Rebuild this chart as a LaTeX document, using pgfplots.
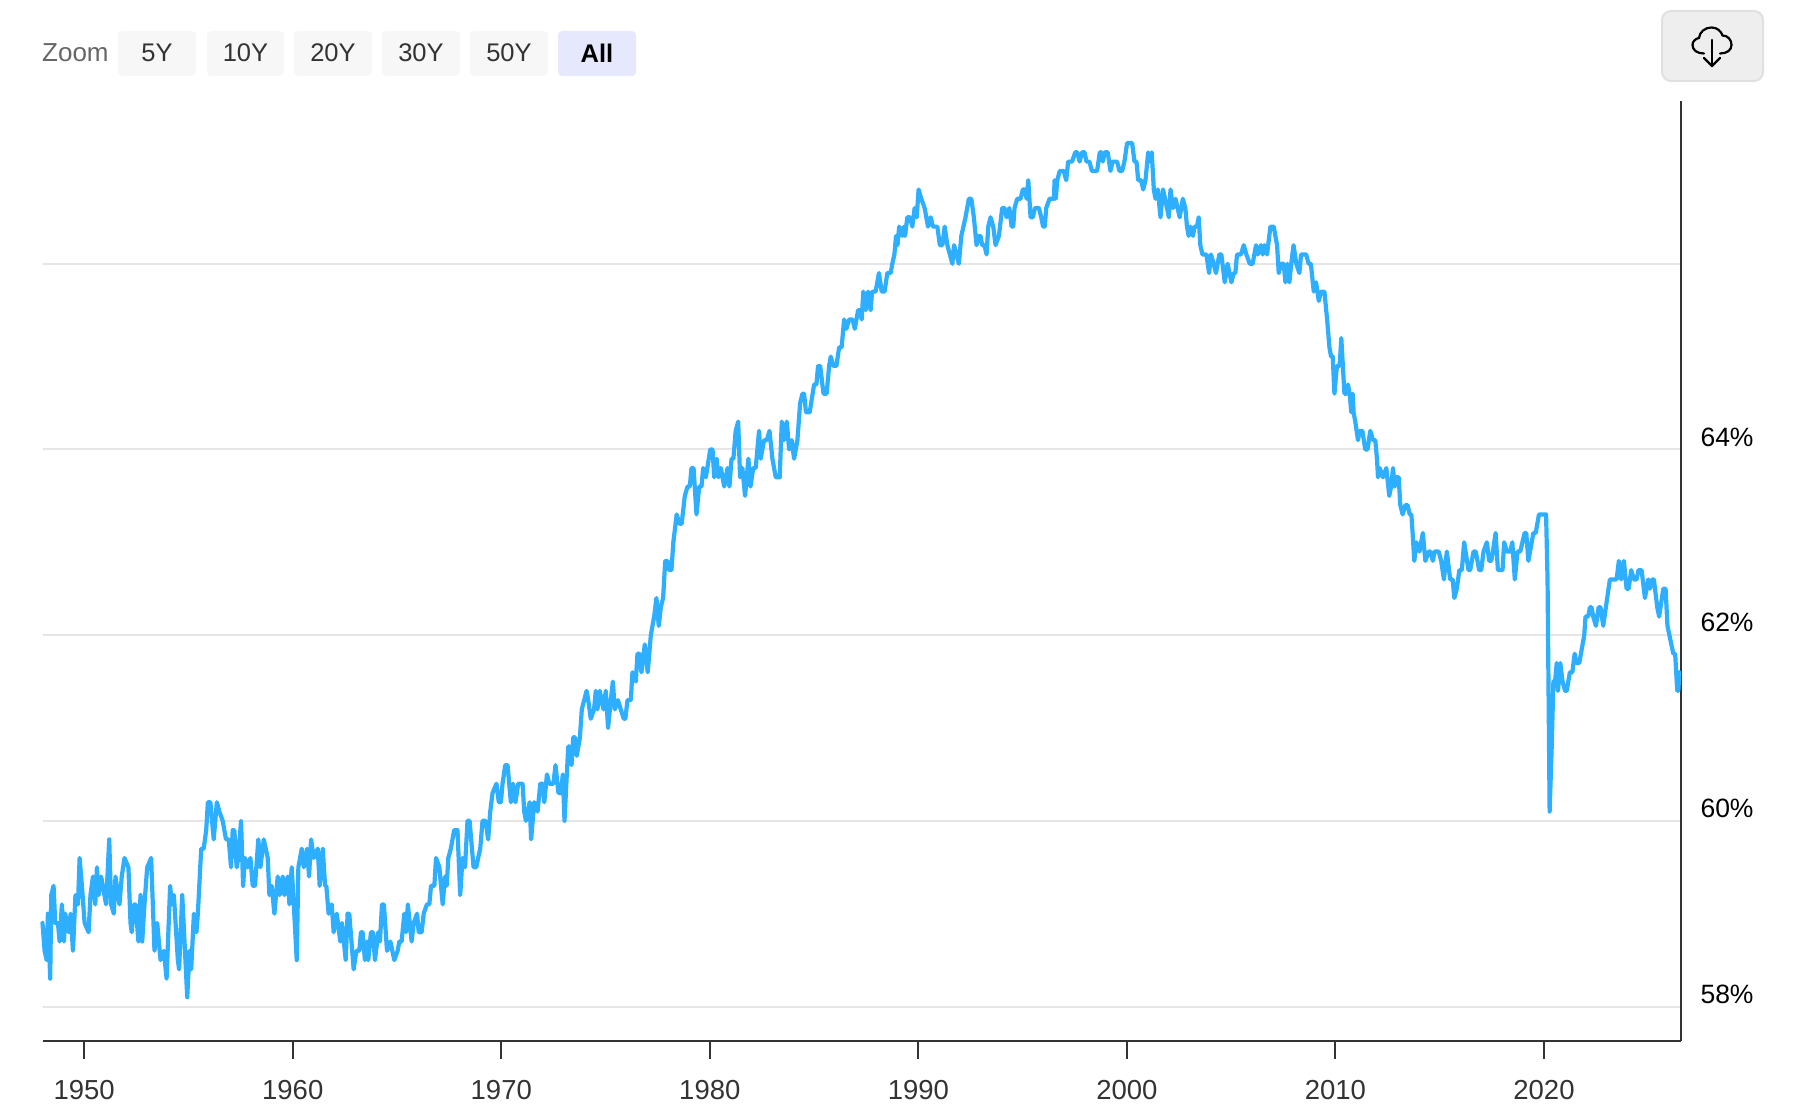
\documentclass[border=0pt]{standalone}
\usepackage{fontspec}
\setmainfont{Liberation Sans}
\usepackage{pgfplots}
\pgfplotsset{compat=1.18}
\definecolor{lineblue}{HTML}{2DAEFF}
\definecolor{gridc}{HTML}{E6E6E6}
\definecolor{axc}{HTML}{333333}
\definecolor{btn}{HTML}{F7F7F7}
\definecolor{btnall}{HTML}{E6E9FD}
\begin{document}
\begin{tikzpicture}[x=1pt,y=1pt]
\path[use as bounding box] (0,0) rectangle (1800,1112);
\begin{axis}[
  at={(42.5pt,71.5pt)}, anchor=south west, scale only axis,
  width=1638.5pt, height=939.5pt,
  xmin=1948, xmax=2026.57, ymin=57.634, ymax=67.753,
  axis y line*=right, axis x line*=bottom,
  axis line style={draw=axc, line width=2pt},
  xtick={1950,1960,1970,1980,1990,2000,2010,2020},
  xticklabels={1950,1960,1970,1980,1990,2000,2010,2020},
  ytick={58,60,62,64,66},
  yticklabels={58\%,60\%,62\%,64\%,{}},
  ymajorgrids, major grid style={draw=gridc, line width=2pt},
  tick align=outside,
  x tick style={draw=axc, line width=2pt},
  y tick style={draw=none},
  major tick length=18pt,
  xticklabel style={font=\fontsize{27.5}{30}\selectfont, text=axc, yshift=-18pt},
  yticklabel style={font=\fontsize{26.5}{30}\selectfont, text=black, anchor=west, xshift=-2pt, yshift=12.5pt},
  clip=false,
]
\addplot[lineblue, line width=4.2pt, line join=round, line cap=round] coordinates {
(1948.00,58.9)(1948.10,58.6)(1948.20,58.5)(1948.26,59.0)(1948.37,58.3)(1948.42,59.2)(1948.53,59.3)(1948.61,58.9)(1948.74,58.9)(1948.82,58.7)(1948.93,59.1)(1949.03,58.7)(1949.09,59.0)(1949.25,58.8)(1949.35,59.0)(1949.46,58.6)(1949.58,59.2)(1949.70,59.1)(1949.78,59.6)(1949.89,59.3)
(1950.02,58.9)(1950.21,58.8)(1950.30,59.2)(1950.42,59.4)(1950.53,59.1)(1950.61,59.5)(1950.69,59.2)(1950.81,59.4)(1951.05,59.1)(1951.20,59.8)(1951.29,59.1)(1951.42,59.0)(1951.50,59.4)(1951.69,59.1)(1951.80,59.4)(1951.93,59.6)(1952.12,59.5)(1952.22,58.9)(1952.28,58.8)(1952.38,59.1)(1952.46,59.1)(1952.60,58.7)(1952.70,59.2)(1952.78,58.7)(1952.89,59.1)
(1953.02,59.5)(1953.21,59.6)(1953.37,58.6)(1953.50,58.9)(1953.66,58.5)(1953.82,58.6)(1953.95,58.3)(1954.12,59.3)(1954.20,59.1)(1954.30,59.2)(1954.49,58.5)(1954.55,58.4)(1954.70,59.2)(1954.81,58.7)(1954.94,58.1)(1955.05,58.6)(1955.13,58.4)(1955.26,59.0)(1955.38,58.8)(1955.45,59.0)(1955.61,59.7)(1955.73,59.7)(1955.85,59.9)(1955.93,60.2)
(1956.05,60.2)(1956.21,59.8)(1956.36,60.2)(1956.48,60.1)(1956.64,60.0)(1956.80,59.8)(1956.93,59.8)(1957.04,59.5)(1957.12,59.9)(1957.20,59.9)(1957.31,59.5)(1957.39,59.6)(1957.52,60.0)(1957.62,59.3)(1957.71,59.6)(1957.84,59.5)(1957.97,59.6)(1958.08,59.3)(1958.19,59.3)(1958.35,59.8)(1958.45,59.5)(1958.61,59.8)(1958.80,59.6)(1958.88,59.2)(1958.99,59.3)(1959.12,59.0)(1959.28,59.4)(1959.37,59.2)
(1959.52,59.4)(1959.60,59.2)(1959.76,59.4)(1959.84,59.1)(1959.95,59.5)(1960.05,59.1)(1960.19,58.5)(1960.27,59.5)(1960.43,59.7)(1960.53,59.5)(1960.69,59.7)(1960.78,59.4)(1960.88,59.8)(1961.00,59.6)(1961.20,59.7)(1961.29,59.3)(1961.44,59.7)(1961.55,59.3)(1961.61,59.3)(1961.72,59.0)(1961.87,59.1)(1961.96,58.8)(1962.11,59.0)(1962.28,58.7)(1962.36,58.9)(1962.54,58.5)(1962.63,59.0)(1962.71,59.0)(1962.92,58.4)
(1963.05,58.6)(1963.19,58.6)(1963.27,58.8)(1963.35,58.8)(1963.46,58.5)(1963.56,58.7)(1963.62,58.5)(1963.75,58.8)(1963.85,58.8)(1963.94,58.5)(1964.10,58.8)(1964.18,58.7)(1964.28,59.1)(1964.37,59.1)(1964.52,58.6)(1964.68,58.7)(1964.87,58.5)(1965.03,58.6)(1965.11,58.7)(1965.22,58.7)(1965.35,59.0)(1965.43,58.8)(1965.52,59.1)(1965.70,58.7)(1965.80,58.9)(1965.96,59.0)
(1966.04,58.8)(1966.18,58.8)(1966.28,59.0)(1966.43,59.1)(1966.55,59.1)(1966.63,59.3)(1966.79,59.3)(1966.87,59.6)(1967.03,59.5)(1967.19,59.1)(1967.30,59.4)(1967.38,59.3)(1967.46,59.6)(1967.58,59.7)(1967.74,59.9)(1967.90,59.9)(1968.03,59.2)(1968.14,59.6)(1968.26,59.5)(1968.38,60.0)(1968.48,60.0)(1968.67,59.5)(1968.80,59.5)(1968.89,59.6)(1968.99,59.7)
(1969.10,60.0)(1969.25,60.0)(1969.37,59.8)(1969.47,60.1)(1969.58,60.3)(1969.77,60.4)(1969.88,60.2)(1969.98,60.2)(1970.06,60.4)(1970.19,60.6)(1970.30,60.6)(1970.46,60.2)(1970.56,60.4)(1970.68,60.2)(1970.81,60.4)(1971.02,60.4)
(1971.10,60.1)(1971.18,60.0)(1971.36,60.2)(1971.43,59.8)(1971.58,60.2)(1971.74,60.1)(1971.87,60.4)(1971.98,60.4)(1972.06,60.2)(1972.19,60.5)(1972.30,60.4)(1972.50,60.4)(1972.60,60.6)(1972.74,60.3)(1972.86,60.3)(1972.95,60.5)(1973.03,60.0)(1973.21,60.8)(1973.27,60.8)(1973.37,60.6)(1973.45,60.9)(1973.53,60.9)(1973.62,60.7)(1973.77,60.9)(1973.86,61.2)
(1974.09,61.4)(1974.17,61.3)(1974.29,61.1)(1974.45,61.2)(1974.53,61.4)(1974.61,61.2)(1974.72,61.4)(1974.90,61.2)(1975.01,61.4)(1975.12,61.0)(1975.25,61.3)(1975.35,61.5)(1975.44,61.2)(1975.59,61.3)(1975.73,61.2)(1975.87,61.1)(1975.95,61.1)(1976.05,61.3)(1976.21,61.3)(1976.29,61.6)(1976.45,61.5)(1976.53,61.8)(1976.63,61.8)(1976.72,61.6)(1976.88,61.9)
(1977.02,61.6)(1977.17,62.0)(1977.33,62.2)(1977.44,62.4)(1977.55,62.1)(1977.65,62.3)(1977.76,62.4)(1977.86,62.8)(1977.97,62.8)(1978.05,62.7)(1978.16,62.7)(1978.25,63.0)(1978.41,63.3)(1978.54,63.2)(1978.65,63.2)
(1978.80,63.5)(1978.93,63.6)(1979.04,63.6)(1979.12,63.8)(1979.22,63.8)(1979.36,63.3)(1979.49,63.6)(1979.60,63.6)(1979.68,63.8)(1979.81,63.7)(1980.02,64.0)(1980.13,64.0)(1980.21,63.7)(1980.33,63.9)(1980.41,63.7)(1980.53,63.8)(1980.69,63.6)(1980.85,63.8)(1980.94,63.6)(1981.04,63.9)(1981.13,63.9)(1981.24,64.2)(1981.36,64.3)(1981.45,63.7)(1981.56,63.8)(1981.69,63.5)(1981.85,63.9)(1981.95,63.6)
(1982.08,63.8)(1982.20,63.8)(1982.36,64.2)(1982.44,63.9)(1982.60,64.1)(1982.73,64.1)(1982.86,64.2)(1983.00,63.9)(1983.16,63.7)(1983.35,63.7)(1983.45,64.3)(1983.56,64.1)(1983.69,64.3)(1983.80,64.0)(1983.93,64.1)(1984.04,63.9)(1984.20,64.1)(1984.33,64.5)(1984.44,64.6)(1984.52,64.6)(1984.61,64.4)(1984.79,64.4)
(1985.00,64.7)(1985.11,64.7)(1985.19,64.9)(1985.29,64.9)(1985.45,64.6)(1985.60,64.6)(1985.72,64.9)(1985.80,65.0)(1985.92,64.9)(1986.07,64.9)(1986.20,65.1)(1986.32,65.1)(1986.44,65.4)(1986.55,65.3)(1986.68,65.4)(1986.84,65.4)(1986.95,65.3)(1987.11,65.5)(1987.20,65.5)(1987.28,65.4)(1987.36,65.7)(1987.47,65.5)(1987.59,65.7)(1987.71,65.5)(1987.78,65.7)(1987.95,65.7)
(1988.11,65.9)(1988.24,65.7)(1988.38,65.7)(1988.51,65.9)(1988.67,65.9)(1988.75,66.0)(1988.85,66.1)(1988.93,66.3)(1989.00,66.2)(1989.08,66.4)
(1989.23,66.3)(1989.31,66.4)(1989.36,66.3)(1989.47,66.5)(1989.60,66.5)(1989.71,66.4)(1989.82,66.6)(1989.92,66.5)(1990.01,66.8)(1990.14,66.7)(1990.30,66.6)(1990.46,66.4)(1990.59,66.5)(1990.70,66.4)(1990.91,66.4)(1991.03,66.2)(1991.15,66.2)(1991.26,66.4)(1991.39,66.2)(1991.51,66.1)(1991.63,66.0)(1991.71,66.2)(1991.83,66.1)(1991.94,66.0)
(1992.06,66.3)(1992.26,66.5)(1992.42,66.7)(1992.54,66.7)(1992.66,66.5)(1992.79,66.2)(1992.90,66.3)(1992.98,66.3)(1993.06,66.2)(1993.17,66.2)(1993.27,66.1)(1993.35,66.4)(1993.46,66.5)(1993.59,66.4)(1993.70,66.2)(1993.86,66.3)(1994.02,66.6)(1994.13,66.6)(1994.23,66.5)(1994.36,66.6)(1994.47,66.4)(1994.55,66.4)(1994.61,66.6)(1994.74,66.7)(1994.90,66.7)
(1995.01,66.8)(1995.11,66.8)(1995.19,66.7)(1995.27,66.9)(1995.38,66.5)(1995.49,66.5)(1995.59,66.6)(1995.78,66.6)(1995.89,66.5)(1995.98,66.4)(1996.06,66.4)(1996.13,66.6)(1996.29,66.7)(1996.50,66.7)(1996.53,66.9)(1996.59,66.7)(1996.66,66.9)(1996.78,67.0)(1996.97,67.0)(1997.09,66.9)(1997.18,67.1)(1997.37,67.1)(1997.52,67.2)(1997.62,67.2)(1997.73,67.1)(1997.85,67.2)(1997.97,67.2)
(1998.06,67.1)(1998.20,67.1)(1998.32,67.0)(1998.57,67.0)(1998.70,67.2)(1998.78,67.2)(1998.84,67.1)(1998.94,67.2)(1999.08,67.2)(1999.21,67.0)(1999.31,67.1)(1999.53,67.1)(1999.64,67.0)(1999.77,67.0)(1999.88,67.1)
(2000.01,67.3)(2000.25,67.3)(2000.36,67.1)(2000.46,67.1)(2000.54,66.9)(2000.68,66.9)(2000.78,66.8)(2000.89,66.9)(2001.02,67.2)(2001.10,67.1)(2001.19,67.2)(2001.29,66.8)(2001.37,66.7)(2001.48,66.8)(2001.61,66.5)(2001.73,66.8)(2001.83,66.7)(2002.01,66.5)(2002.09,66.8)(2002.21,66.6)(2002.33,66.7)(2002.53,66.5)(2002.68,66.7)(2002.80,66.6)(2002.88,66.4)(2002.96,66.3)
(2003.04,66.4)(2003.17,66.3)(2003.24,66.4)(2003.36,66.4)(2003.44,66.5)(2003.52,66.2)(2003.62,66.1)(2003.81,66.1)(2003.94,65.9)(2004.03,66.1)(2004.16,66.0)(2004.27,65.9)(2004.43,66.1)(2004.53,66.1)(2004.69,65.8)(2004.83,66.0)(2005.01,65.8)(2005.12,65.9)(2005.20,65.9)(2005.28,66.1)(2005.47,66.1)(2005.60,66.2)(2005.73,66.1)(2005.89,66.0)
(2006.03,66.0)(2006.19,66.2)(2006.27,66.1)(2006.43,66.2)(2006.51,66.1)(2006.59,66.2)(2006.72,66.1)(2006.88,66.4)(2007.04,66.4)(2007.20,66.2)(2007.28,65.9)(2007.39,66.0)(2007.52,66.0)(2007.60,65.8)(2007.70,66.0)(2007.79,65.8)(2007.88,66.0)(2007.99,66.2)(2008.12,66.0)(2008.27,65.9)(2008.35,66.1)(2008.60,66.1)(2008.71,66.0)(2008.82,66.0)
(2008.96,65.7)(2009.07,65.8)(2009.20,65.6)(2009.31,65.7)(2009.47,65.7)(2009.60,65.4)(2009.71,65.1)(2009.79,65.0)(2009.87,65.0)(2009.95,64.6)(2010.07,64.9)(2010.20,64.9)(2010.28,65.2)(2010.43,64.6)(2010.52,64.6)(2010.60,64.7)(2010.68,64.6)(2010.76,64.4)(2010.83,64.6)(2010.87,64.4)(2010.95,64.3)
(2011.08,64.1)(2011.16,64.2)(2011.29,64.2)(2011.43,64.0)(2011.54,64.0)(2011.67,64.2)(2011.80,64.1)(2011.91,64.1)(2011.99,63.9)(2012.04,63.7)(2012.12,63.8)(2012.28,63.7)(2012.44,63.8)(2012.58,63.5)(2012.67,63.6)(2012.76,63.8)(2012.84,63.6)(2012.93,63.7)(2013.03,63.7)(2013.11,63.4)(2013.22,63.3)(2013.35,63.4)(2013.46,63.4)(2013.56,63.3)(2013.64,63.3)(2013.70,63.1)(2013.78,62.8)(2013.88,63.0)
(2014.03,62.9)(2014.19,63.1)(2014.31,62.8)(2014.47,62.9)(2014.55,62.9)(2014.67,62.8)(2014.75,62.9)(2014.86,62.9)(2014.95,62.9)(2015.07,62.8)(2015.20,62.6)(2015.34,62.9)(2015.50,62.6)(2015.62,62.6)(2015.70,62.4)(2015.82,62.5)(2015.94,62.7)(2016.06,62.7)(2016.17,63.0)(2016.38,62.7)(2016.46,62.7)(2016.62,62.9)(2016.73,62.9)(2016.89,62.7)(2016.99,62.7)
(2017.10,62.9)(2017.26,63.0)(2017.37,62.8)(2017.47,62.8)(2017.55,62.9)(2017.68,63.1)(2017.79,62.7)(2018.01,62.7)(2018.09,63.0)(2018.22,62.9)(2018.38,62.9)(2018.48,63.0)(2018.60,62.6)(2018.73,62.9)(2018.86,62.9)(2019.07,63.1)(2019.15,63.1)
(2019.25,62.8)(2019.49,63.1)(2019.60,63.1)(2019.76,63.3)(2020.10,63.3)(2020.17,62.6)(2020.27,60.1)(2020.37,60.8)(2020.45,61.5)(2020.53,61.5)(2020.61,61.7)(2020.67,61.4)(2020.78,61.7)(2020.89,61.5)
(2021.01,61.4)(2021.09,61.4)(2021.24,61.6)(2021.36,61.6)(2021.47,61.8)(2021.56,61.7)(2021.69,61.7)(2021.93,62.0)(2021.99,62.2)(2022.12,62.2)(2022.20,62.3)(2022.28,62.3)(2022.36,62.2)(2022.49,62.1)(2022.62,62.3)(2022.71,62.3)(2022.84,62.1)
(2023.03,62.4)(2023.16,62.6)(2023.48,62.6)(2023.59,62.8)(2023.70,62.6)(2023.83,62.8)(2023.96,62.5)(2024.06,62.5)(2024.18,62.7)(2024.31,62.6)(2024.44,62.6)(2024.53,62.7)(2024.68,62.7)(2024.84,62.4)
(2025.00,62.6)(2025.08,62.5)(2025.19,62.6)(2025.27,62.6)(2025.43,62.3)(2025.52,62.2)(2025.72,62.5)(2025.83,62.5)(2025.92,62.1)(2026.20,61.8)(2026.29,61.8)(2026.39,61.4)(2026.44,61.4)(2026.49,61.6)
};
\end{axis}
% page furniture: toolbar above the chart, in reference pixels (y downwards)
\begin{scope}[shift={(0,1112)},x=1pt,y=-1pt]
  \node[anchor=west, inner sep=0pt, text=black!60, font=\fontsize{26}{30}\selectfont] at (42,53) {Zoom};
  \foreach \xa/\xb/\lab in {118/196/5Y,207/284/10Y,294/372/20Y,382/460/30Y,470/548/50Y}{
    \fill[btn, rounded corners=4pt] (\xa,31) rectangle (\xb,76);
    \node[text=axc, inner sep=0pt, font=\fontsize{25.5}{30}\selectfont] at ({(\xa+\xb)/2},53) {\lab};
  }
  \fill[btnall, rounded corners=4pt] (558,31) rectangle (636,76);
  \node[text=black, inner sep=0pt, font=\bfseries\fontsize{25.5}{30}\selectfont] at (597,53) {All};
  \draw[draw=black!12, fill=black!6.5, line width=2pt, rounded corners=9pt] (1662,11) rectangle (1763,81);
  \draw[black, line width=2.2pt, line cap=round]
    (1704,53.5) .. controls (1697,53.5) and (1692.5,50) .. (1692.5,45)
    .. controls (1692.5,41) and (1696,38.5) .. (1699,38)
    .. controls (1699.5,32) and (1705,27.5) .. (1711.5,27.5)
    .. controls (1717,27.5) and (1721,31) .. (1722.5,35.5)
    .. controls (1728,35.5) and (1731.5,40) .. (1731.5,45)
    .. controls (1731.5,50) and (1727,53.5) .. (1720,53.5);
  \draw[black, line width=2.2pt, line cap=round, line join=round] (1712,40)--(1712,66);
  \draw[black, line width=2.2pt, line cap=round, line join=round] (1704,58)--(1712,66)--(1720,58);
\end{scope}
\end{tikzpicture}
\end{document}
